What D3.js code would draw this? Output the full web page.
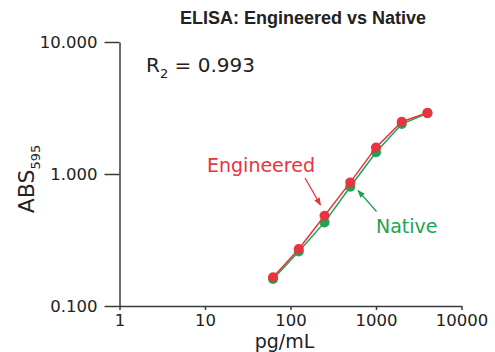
<!DOCTYPE html>
<html>
<head>
<meta charset="utf-8">
<script src="https://cdn.jsdelivr.net/npm/d3@7"></script>
<style>
  body { margin: 0; background: #fff; }
  svg { font-family: "DejaVu Sans", sans-serif; }
  .axis path, .axis line { stroke: #3a3a3a; stroke-width: 1.5; }
  .axis text { font-family: "DejaVu Sans", sans-serif; font-size: 16.5px; fill: #222; }
</style>
</head>
<body>
<div id="chart"></div>
<script>
const conc = [62.5, 125, 250, 500, 1000, 2000, 4000];
const engineered = [0.165, 0.27, 0.483, 0.864, 1.59, 2.49, 2.91];
const native = [0.16, 0.259, 0.43, 0.8, 1.46, 2.39, 2.88];
const xTicks = [1, 10, 100, 1000, 10000];
const yTicks = [0.1, 1, 10];

const width = 495, height = 352;
const red = "#e8343f", green = "#1ea352";

const svg = d3.select("#chart").append("svg")
  .attr("width", width).attr("height", height);

const x = d3.scaleLog().domain([1, 10000]).range([119.5, 461.5]);
const y = d3.scaleLog().domain([0.1, 10]).range([306, 42]);

svg.append("g")
  .attr("class", "axis")
  .attr("transform", "translate(0,306)")
  .call(d3.axisBottom(x).tickValues(xTicks).tickFormat(d3.format("d"))
    .tickSizeInner(4).tickSizeOuter(0).tickPadding(4));

svg.append("g")
  .attr("class", "axis")
  .attr("transform", "translate(119.5,0)")
  .call(d3.axisLeft(y).tickValues(yTicks).tickFormat(d3.format(".3f"))
    .tickSizeInner(15).tickSizeOuter(0).tickPadding(7));

// title
svg.append("text")
  .attr("x", 303).attr("y", 24)
  .attr("text-anchor", "middle")
  .style("font-family", "'Liberation Sans', Arial, sans-serif")
  .style("font-weight", "bold")
  .style("font-size", "18px")
  .attr("fill", "#222")
  .text("ELISA: Engineered vs Native");

const r2 = svg.append("text")
  .attr("x", 146).attr("y", 72)
  .style("font-size", "20px")
  .attr("fill", "#222");
r2.append("tspan").text("R");
r2.append("tspan").attr("dy", 6).style("font-size", "13px").text("2");
r2.append("tspan").attr("dy", -6).text(" = 0.993");

const yl = svg.append("text")
  .attr("transform", "translate(34,179) rotate(-90)")
  .attr("text-anchor", "middle")
  .style("font-size", "22px")
  .attr("fill", "#222");
yl.append("tspan").text("ABS");
yl.append("tspan").attr("dy", 6).style("font-size", "13px").text("595");

svg.append("text")
  .attr("x", 284.5).attr("y", 347.5)
  .attr("text-anchor", "middle")
  .style("font-size", "19px")
  .attr("fill", "#222")
  .text("pg/mL");

const series = [
  { name: "Native", values: native, color: green },
  { name: "Engineered", values: engineered, color: red }
];

const line = d3.line().x(d => x(d[0])).y(d => y(d[1]));

series.forEach(s => {
  const pts = conc.map((c, i) => [c, s.values[i]]);
  svg.append("path")
    .attr("d", line(pts))
    .attr("fill", "none")
    .attr("stroke", s.color)
    .attr("stroke-width", 1.5);
  svg.append("g").selectAll("circle")
    .data(pts)
    .join("circle")
    .attr("cx", d => x(d[0]))
    .attr("cy", d => y(d[1]))
    .attr("r", 5)
    .attr("fill", s.color);
});

const defs = svg.append("defs");
[["arrRed", red], ["arrGreen", green]].forEach(([id, c]) => {
  defs.append("marker")
    .attr("id", id)
    .attr("viewBox", "0 0 10 10")
    .attr("refX", 9).attr("refY", 5)
    .attr("markerWidth", 6).attr("markerHeight", 6)
    .attr("orient", "auto")
    .append("path")
    .attr("d", "M0,1 L10,5 L0,9 z")
    .attr("fill", c);
});

svg.append("text")
  .attr("x", 207).attr("y", 172)
  .style("font-size", "19px")
  .attr("fill", red)
  .text("Engineered");
svg.append("line")
  .attr("x1", 305).attr("y1", 178).attr("x2", 320.5).attr("y2", 205)
  .attr("stroke", red).attr("stroke-width", 1.3)
  .attr("marker-end", "url(#arrRed)");

svg.append("text")
  .attr("x", 376).attr("y", 233)
  .style("font-size", "19px")
  .attr("fill", green)
  .text("Native");
svg.append("line")
  .attr("x1", 376.5).attr("y1", 211.5).attr("x2", 358).attr("y2", 190.5)
  .attr("stroke", green).attr("stroke-width", 1.3)
  .attr("marker-end", "url(#arrGreen)");
</script>
</body>
</html>
